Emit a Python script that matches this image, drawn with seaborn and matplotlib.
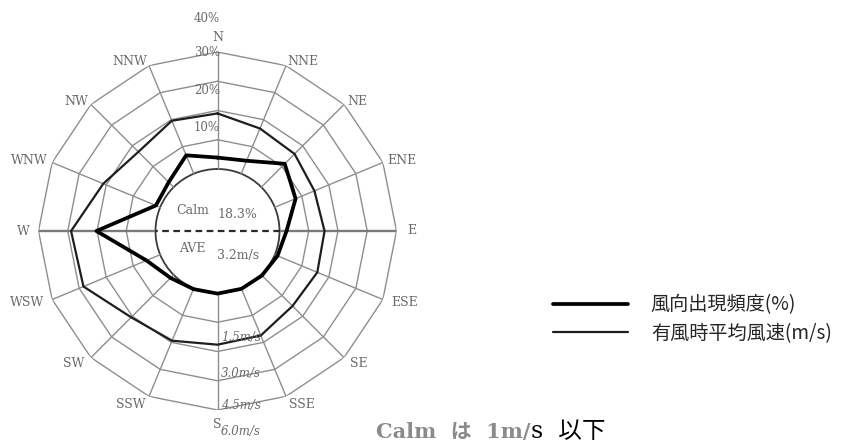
import numpy as np
import pandas as pd
import matplotlib
matplotlib.use('Agg')
import matplotlib.pyplot as plt
import seaborn as sns

# wind rose data (16 directions, clockwise from N)
directions = ['N', 'NNE', 'NE', 'ENE', 'E', 'ESE', 'SE', 'SSE',
              'S', 'SSW', 'SW', 'WSW', 'W', 'WNW', 'NW', 'NNW']
freq = [3.9, 4.8, 11.3, 7.7, 2.4, 1.0, 0.3, 0.2,
        0.2, 0.3, 1.5, 5.1, 20.2, 1.6, 2.4, 6.8]          # 風向出現頻度 (%)
speed = [2.85, 2.51, 2.41, 2.20, 2.31, 2.36, 2.26, 2.62,
         2.65, 2.91, 3.08, 4.26, 4.33, 3.16, 2.56, 2.94]  # 有風時平均風速 (m/s)
freq_rings = [10, 20, 30, 40]
freq_labels = ['10%', '20%', '30%', '40%']
speed_labels = ['1.5m/s', '3.0m/s', '4.5m/s', '6.0m/s']
calm_text = '18.3%'
ave_text = '3.2m/s'
legend_labels = ['風向出現頻度(%)', '有風時平均風速(m/s)']

W, H = 848, 443
sns.set_style('white')
plt.rcParams['font.family'] = ['Noto Sans CJK JP', 'DejaVu Sans']

fig = plt.figure(figsize=(W / 100, H / 100), dpi=100)
# centre (217.5, 231) px, outer ring radius 179 px
ax = fig.add_axes([38.5 / W, 33 / H, 358 / W, 358 / H], projection='polar')
ax.set_theta_zero_location('N')
ax.set_theta_direction(-1)
ax.set_ylim(-21.2, 40)
ax.set_xticks([])
ax.set_yticks([0])
ax.set_yticklabels([])
ax.xaxis.grid(False)
ax.yaxis.grid(True, color='#3a3a3a', lw=1.3)   # calm circle
for sp in ax.spines.values():
    sp.set_visible(False)
ax.patch.set_alpha(0)

theta = np.deg2rad(np.arange(16) * 22.5)
theta_c = np.append(theta, 2 * np.pi)

grid_c = '#8e8e8e'
# polygonal rings
for v in freq_rings:
    ax.plot(theta_c, [v] * 17, color=grid_c, lw=1.0, zorder=1)
# spokes
for i, t in enumerate(theta):
    if directions[i] in ('E', 'W'):
        ax.plot([t, t], [0, 40], color='#7a7a7a', lw=1.7, zorder=1)
    else:
        ax.plot([t, t], [0, 40], color=grid_c, lw=1.0, zorder=1)
# dashed E-W line through calm circle
ax.plot([np.pi / 2, 3 * np.pi / 2], [0, 0], color='#2a2a2a', lw=1.6,
        ls=(0, (3, 2)), zorder=2)

df = pd.DataFrame({'theta': theta_c,
                   'freq': freq + freq[:1],
                   'speed': [s * 10 / 1.5 for s in speed + speed[:1]]})
sns.lineplot(data=df, x='theta', y='freq', sort=False, estimator=None, ax=ax,
             color='black', lw=2.7, label=legend_labels[0], zorder=4)
sns.lineplot(data=df, x='theta', y='speed', sort=False, estimator=None, ax=ax,
             color='#1e1e1e', lw=1.6, label=legend_labels[1], zorder=3)
ax.set_xlabel('')
ax.set_ylabel('')

# direction labels
lab_c = '#6a6a6a'
for i, t in enumerate(theta):
    s, c = np.sin(t), np.cos(t)
    if directions[i] in ('N', 'S', 'E', 'W'):
        r, ha = 45.1, 'center'
    else:
        r = 41.5 if c >= 0 else 43
        ha = 'left' if s > 0 else 'right'
    ax.text(t, r, directions[i], ha=ha, va='center', fontsize=9,
            color=lab_c, family='DejaVu Serif', clip_on=False)


def ftxt(x, y, s, **kw):
    fig.text(x / W, 1 - y / H, s, **kw)


# scale labels on the N axis
for lab, y in zip(freq_labels, [128, 90, 53, 19]):
    ftxt(220, y, lab, ha='right', va='center', fontsize=8.5, color=lab_c,
         family='DejaVu Serif')
# speed labels on the S axis
for lab, y in zip(speed_labels, [337, 373, 405, 431]):
    ftxt(221, y, lab, ha='left', va='center', fontsize=8.5, color=lab_c,
         family='DejaVu Serif', style='italic')

ftxt(193, 210, 'Calm', ha='center', va='center', fontsize=9, color=lab_c,
     family='DejaVu Serif')
ftxt(237, 215, calm_text, ha='center', va='center', fontsize=9, color=lab_c,
     family='DejaVu Serif')
ftxt(192, 248, 'AVE', ha='center', va='center', fontsize=9, color=lab_c,
     family='DejaVu Serif')
ftxt(238, 255, ave_text, ha='center', va='center', fontsize=9, color=lab_c,
     family='DejaVu Serif')

leg = ax.legend(loc='center left', bbox_to_anchor=(553 / W, 1 - 319 / H),
                bbox_transform=fig.transFigure, frameon=False, fontsize=13.8,
                handlelength=3.9, handletextpad=1.2, labelspacing=0.38,
                borderpad=0, borderaxespad=0)

ftxt(530, 432, 'Calm  は  1m/', ha='right', va='center', fontsize=15,
     color='#8a8a8a', weight='bold', family=['DejaVu Serif', 'Noto Sans CJK JP'])
ftxt(531, 432, 's  以下', ha='left', va='center', fontsize=17, color='black',
     family=['DejaVu Serif', 'Noto Sans CJK JP'])

fig.savefig('out.png', dpi=100, facecolor='white')
